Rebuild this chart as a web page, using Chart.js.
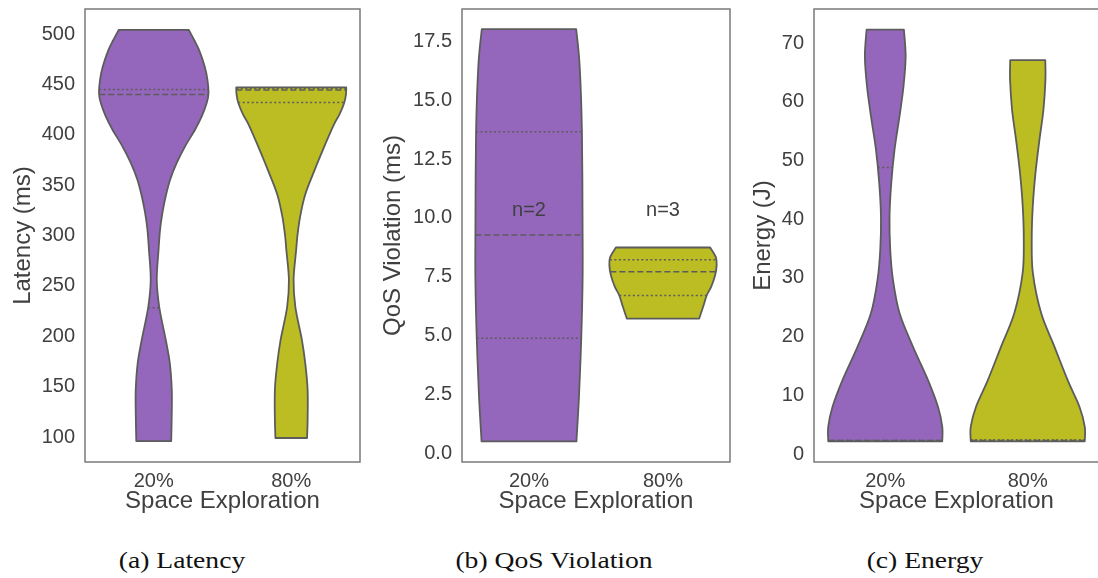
<!DOCTYPE html>
<html>
<head>
<meta charset="utf-8">
<script src="https://cdn.jsdelivr.net/npm/chart.js@4.4.1/dist/chart.umd.min.js"></script>
<style>
  html, body { margin: 0; padding: 0; background: #fff; width: 1098px; height: 578px; overflow: hidden; }
  canvas { position: absolute; top: 0; }
  .caption {
    position: absolute; top: 547px;
    font-family: "Liberation Serif", "Times New Roman", serif; font-size: 24px; color: #111;
    white-space: nowrap; transform: translateX(-50%) scaleX(1.15);
  }
</style>
</head>
<body>
<canvas id="latency" width="370" height="530" style="left:0px"></canvas>
<canvas id="qos" width="370" height="530" style="left:370px"></canvas>
<canvas id="energy" width="360" height="530" style="left:740px"></canvas>
<div class="caption" style="left:182px">(a) Latency</div>
<div class="caption" style="left:554px">(b) QoS Violation</div>
<div class="caption" style="left:925px">(c) Energy</div>

<script>
// categories on the x axis
const categories = ['20%', '80%'];

// violin outlines: value (top to bottom) and half-width in category units
const latencyLowY  = [504, 494, 484, 468, 455, 441, 431.4, 418.2, 405, 388.5, 372, 355.4, 338.9, 322.4, 305.9, 286, 256, 229, 196, 173, 147, 124, 96];
const latencyLowW  = [0.255, 0.294, 0.33, 0.37, 0.39, 0.398, 0.385, 0.349, 0.30, 0.228, 0.167, 0.119, 0.087, 0.063, 0.046, 0.035, 0.022, 0.04, 0.088, 0.117, 0.131, 0.131, 0.127];
const latencyHighY = [447, 440, 431.5, 420, 410, 385, 360, 340, 319, 300, 286, 256, 229, 196, 173, 147, 117, 99];
const latencyHighW = [0.4, 0.398, 0.385, 0.35, 0.31, 0.23, 0.155, 0.1, 0.065, 0.045, 0.036, 0.017, 0.03, 0.078, 0.102, 0.119, 0.119, 0.115];

const qosLowY  = [18.02, 16.46, 13.64, 9.38, 7.36, 4.9, 2.4, 0.5];
const qosLowW  = [0.352, 0.378, 0.395, 0.4, 0.4, 0.39, 0.373, 0.354];
const qosHighY = [8.74, 8.32, 7.96, 7.54, 7.08, 6.7, 6.23, 5.72];
const qosHighW = [0.352, 0.395, 0.4, 0.388, 0.36, 0.326, 0.3, 0.27];

const energyLowY  = [72.27, 67.7, 62.6, 57.5, 51.8, 46.1, 40.4, 34.8, 29.7, 24, 18.3, 12.6, 8.06, 4.65, 2.16];
const energyLowW  = [0.131, 0.143, 0.128, 0.1, 0.065, 0.042, 0.03, 0.035, 0.054, 0.1, 0.194, 0.3, 0.37, 0.4, 0.4];
const energyHighY = [67.1, 63.7, 58.6, 53.5, 47.8, 42.1, 36.5, 30.8, 24, 18.3, 12.6, 8.06, 4.65, 2.16];
const energyHighW = [0.123, 0.124, 0.11, 0.082, 0.054, 0.035, 0.028, 0.036, 0.094, 0.187, 0.28, 0.363, 0.4, 0.4];

// quartiles [q1, median, q3]
const latencyLowQ  = [228.3, 440, 445];
const latencyHighQ = [432, 444.5, 446];
const qosLowQ      = [4.88, 9.27, 13.66];
const qosHighQ     = [6.7, 7.71, 8.22];
const energyLowQ   = [2.3, 2.3, 48.8];
const energyHighQ  = [2.3, 2.3, 2.4];

// tick labels
const latencyTicks = [100, 150, 200, 250, 300, 350, 400, 450, 500];
const qosTicks = [0, 2.5, 5, 7.5, 10, 12.5, 15, 17.5];
const energyTicks = [0, 10, 20, 30, 40, 50, 60, 70];

// sample-size notes in panel (b)
const qosNotes = ['n=2', 'n=3'];
const qosNoteY = [10.3, 10.3];

const colors = ['#9467bd', '#bcbd22'];
const edgeColor = '#5c5c5c';
const textColor = '#404040';
const sans = '"Liberation Sans", Arial, Helvetica, sans-serif';

function halfWidthAt(ys, ws, v) {
  if (v >= ys[0]) return ws[0];
  for (let k = 0; k < ys.length - 1; k++) {
    if (v <= ys[k] && v >= ys[k + 1]) {
      const t = (ys[k] - v) / (ys[k] - ys[k + 1]);
      return ws[k] + t * (ws[k + 1] - ws[k]);
    }
  }
  return ws[ws.length - 1];
}

// smooth curve through points (catmull-rom as bezier)
function curveThrough(ctx, p) {
  for (let i = 0; i < p.length - 1; i++) {
    const p0 = p[Math.max(i - 1, 0)], p1 = p[i], p2 = p[i + 1], p3 = p[Math.min(i + 2, p.length - 1)];
    ctx.bezierCurveTo(
      p1.x + (p2.x - p0.x) / 6, p1.y + (p2.y - p0.y) / 6,
      p2.x - (p3.x - p1.x) / 6, p2.y - (p3.y - p1.y) / 6,
      p2.x, p2.y);
  }
}

const violinPlugin = {
  id: 'violinBodies',
  beforeDatasetsDraw(chart) {
    const {ctx, chartArea: a} = chart;
    ctx.save();
    ctx.strokeStyle = '#7a7a7a';
    ctx.lineWidth = 1.5;
    ctx.strokeRect(a.left, a.top, a.right - a.left, a.bottom - a.top);
    chart.data.datasets.forEach((ds, di) => {
      if (!ds.violin) return;
      const pts = chart.getDatasetMeta(di).data.map(p => ({x: p.x, y: p.y}));
      const n = pts.length / 2;
      const left = pts.slice(0, n), right = pts.slice(n);
      ctx.beginPath();
      ctx.moveTo(left[0].x, left[0].y);
      curveThrough(ctx, left);
      ctx.lineTo(right[0].x, right[0].y);
      curveThrough(ctx, right);
      ctx.closePath();
      ctx.fillStyle = ds.fillColor;
      ctx.fill();
      ctx.lineWidth = 1.8;
      ctx.lineJoin = 'round';
      ctx.strokeStyle = edgeColor;
      ctx.stroke();
    });
    ctx.restore();
  },
  afterDatasetsDraw(chart, args, opts) {
    if (!opts.notes) return;
    const {ctx, scales} = chart;
    ctx.save();
    ctx.fillStyle = textColor;
    ctx.font = '20px ' + sans;
    ctx.textAlign = 'center';
    ctx.textBaseline = 'middle';
    opts.notes.forEach((t, i) => {
      ctx.fillText(t, scales.x.getPixelForValue(i), scales.y.getPixelForValue(opts.noteY[i]));
    });
    ctx.restore();
  }
};

function makeChart(id, cfg) {
  const datasets = [];
  cfg.violins.forEach((v, i) => {
    const leftSide = v.ys.map((y, k) => ({x: i - v.ws[k], y}));
    const rightSide = v.ys.map((y, k) => ({x: i + v.ws[k], y})).reverse();
    datasets.push({
      violin: true, fillColor: colors[i],
      data: leftSide.concat(rightSide),
      pointRadius: 0, showLine: false
    });
    v.q.forEach((q, j) => {
      const hw = halfWidthAt(v.ys, v.ws, q);
      datasets.push({
        data: [{x: i - hw, y: q}, {x: i + hw, y: q}],
        showLine: true, pointRadius: 0,
        borderColor: edgeColor, borderWidth: 1.5,
        borderDash: j === 1 ? [6, 3] : [2, 2.5]
      });
    });
  });

  return new Chart(document.getElementById(id), {
    type: 'scatter',
    data: { datasets },
    plugins: [violinPlugin],
    options: {
      responsive: false,
      animation: false,
      devicePixelRatio: 1,
      layout: { padding: { top: 9, right: cfg.padRight, left: 0, bottom: 0 } },
      plugins: {
        legend: { display: false },
        tooltip: { enabled: false },
        violinBodies: { notes: cfg.notes, noteY: cfg.noteY }
      },
      scales: {
        x: {
          type: 'linear', min: -0.5, max: 1.5,
          afterBuildTicks: s => { s.ticks = categories.map((c, i) => ({value: i})); },
          afterFit: s => { s.height = 68; s.paddingLeft = 0; s.paddingRight = 0; },
          grid: { display: false, drawTicks: false },
          border: { display: false },
          ticks: { padding: 7, color: textColor, font: { size: 20, family: sans }, callback: v => categories[v] },
          title: { display: true, text: 'Space Exploration', color: textColor,
                   font: { size: 24, family: sans }, padding: { top: 0, bottom: 14 } }
        },
        y: {
          type: 'linear', min: cfg.yMin, max: cfg.yMax,
          afterBuildTicks: s => { s.ticks = cfg.ticks.map(v => ({value: v})); },
          afterFit: s => { s.width = cfg.yWidth; s.paddingTop = 0; s.paddingBottom = 0; },
          grid: { display: false, drawTicks: false },
          border: { display: false },
          ticks: { padding: 10, color: textColor, font: { size: 20, family: sans },
                   callback: v => cfg.decimals ? v.toFixed(cfg.decimals) : String(v) },
          title: { display: true, text: cfg.title, color: textColor,
                   font: { size: 24, family: sans }, padding: { top: 9, bottom: 0 } }
        }
      }
    }
  });
}

makeChart('latency', {
  title: 'Latency (ms)', yMin: 75.2, yMax: 524.8, ticks: latencyTicks, yWidth: 85, padRight: 10,
  violins: [
    { ys: latencyLowY, ws: latencyLowW, q: latencyLowQ },
    { ys: latencyHighY, ws: latencyHighW, q: latencyHighQ }
  ]
});

makeChart('qos', {
  title: 'QoS Violation (ms)', yMin: -0.375, yMax: 18.875, ticks: qosTicks, yWidth: 92, padRight: 10, decimals: 1,
  notes: qosNotes, noteY: qosNoteY,
  violins: [
    { ys: qosLowY, ws: qosLowW, q: qosLowQ },
    { ys: qosHighY, ws: qosHighW, q: qosHighQ }
  ]
});

makeChart('energy', {
  title: 'Energy (J)', yMin: -1.36, yMax: 75.8, ticks: energyTicks, yWidth: 74, padRight: 1,
  violins: [
    { ys: energyLowY, ws: energyLowW, q: energyLowQ },
    { ys: energyHighY, ws: energyHighW, q: energyHighQ }
  ]
});
</script>
</body>
</html>
